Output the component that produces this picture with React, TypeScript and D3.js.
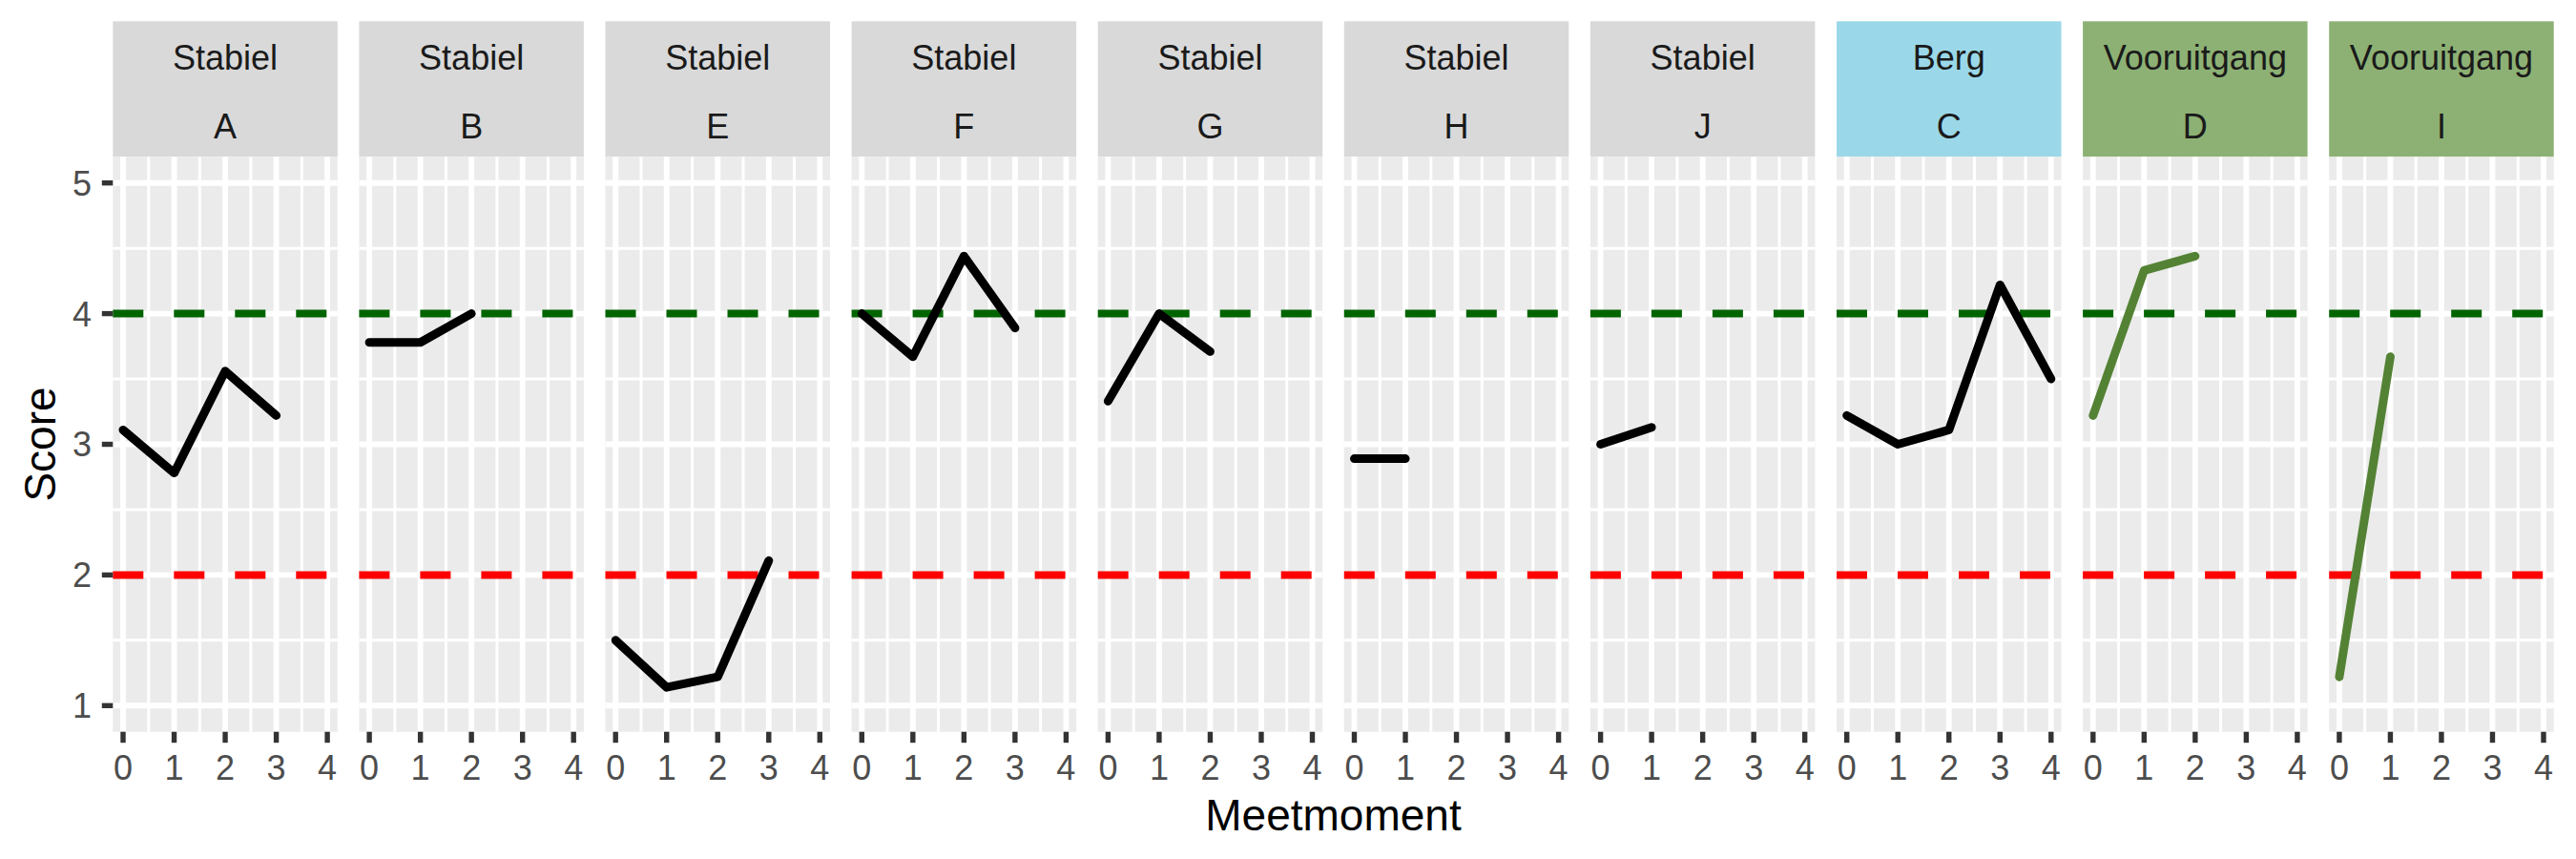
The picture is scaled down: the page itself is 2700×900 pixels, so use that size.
import React, { useRef, useEffect } from 'react'
import * as d3 from 'd3'

// facet labels, in plot order
const panelIds = ['A', 'B', 'E', 'F', 'G', 'H', 'J', 'C', 'D', 'I']
const panelGroups = ['Stabiel', 'Stabiel', 'Stabiel', 'Stabiel', 'Stabiel', 'Stabiel', 'Stabiel', 'Berg', 'Vooruitgang', 'Vooruitgang']

// scores per meetmoment (index = meetmoment)
const scoresA = [3.11, 2.78, 3.56, 3.22]
const scoresB = [3.78, 3.78, 4.0]
const scoresE = [1.5, 1.14, 1.22, 2.11]
const scoresF = [4.0, 3.67, 4.44, 3.89]
const scoresG = [3.33, 4.0, 3.71]
const scoresH = [2.89, 2.89]
const scoresJ = [3.0, 3.13]
const scoresC = [3.22, 3.0, 3.11, 4.22, 3.5]
const scoresD = [3.22, 4.33, 4.44]
const scoresI = [1.22, 3.67]
const panelScores = [scoresA, scoresB, scoresE, scoresF, scoresG, scoresH, scoresJ, scoresC, scoresD, scoresI]

const xTicks = [0, 1, 2, 3, 4]
const yTicks = [1, 2, 3, 4, 5]
const upperThreshold = 4
const lowerThreshold = 2

const stripFill: Record<string, string> = {
  Stabiel: '#D9D9D9',
  Berg: '#9AD8E9',
  Vooruitgang: '#8DB174',
}
const lineColour: Record<string, string> = {
  Stabiel: '#000000',
  Berg: '#000000',
  Vooruitgang: '#548235',
}

const App: React.FC = () => {
  const ref = useRef<SVGSVGElement>(null)

  useEffect(() => {
    if (!ref.current) return
    const svg = d3.select(ref.current)
    svg.selectAll('*').remove()

    const font = '"Liberation Sans", Arial, sans-serif'
    const panelLeft = 118.3
    const panelStep = 258.1
    const panelW = 235.5
    const stripTop = 22.3
    const panelTop = 164.3
    const panelBottom = 766.7

    const x = d3.scaleLinear().domain([-0.2, 4.2]).range([0, panelW])
    const y = d3.scaleLinear().domain([0.8, 5.2]).range([panelBottom, panelTop])

    const minorX = d3.range(-0.5, 4.6, 1).filter(v => v > -0.2 && v < 4.2)
    const minorY = d3.range(0.5, 5.6, 1).filter(v => v > 0.8 && v < 5.2)

    const line = d3.line<number>()
      .x((d, i) => x(i))
      .y(d => y(d))

    panelIds.forEach((id, p) => {
      const group = panelGroups[p]
      const g = svg.append('g').attr('transform', `translate(${panelLeft + p * panelStep},0)`)

      // strip
      g.append('rect')
        .attr('x', 0).attr('y', stripTop)
        .attr('width', panelW).attr('height', panelTop - stripTop)
        .attr('fill', stripFill[group])
      g.append('text')
        .attr('x', panelW / 2).attr('y', 72.7)
        .attr('text-anchor', 'middle')
        .style('font-family', font).style('font-size', '36px').style('fill', '#1A1A1A')
        .text(group)
      g.append('text')
        .attr('x', panelW / 2).attr('y', 145)
        .attr('text-anchor', 'middle')
        .style('font-family', font).style('font-size', '36px').style('fill', '#1A1A1A')
        .text(id)

      // panel background
      g.append('rect')
        .attr('x', 0).attr('y', panelTop)
        .attr('width', panelW).attr('height', panelBottom - panelTop)
        .attr('fill', '#EBEBEB')

      // minor grid
      minorY.forEach(v => {
        g.append('line').attr('x1', 0).attr('x2', panelW).attr('y1', y(v)).attr('y2', y(v))
          .attr('stroke', '#fff').attr('stroke-width', 3)
      })
      minorX.forEach(v => {
        g.append('line').attr('x1', x(v)).attr('x2', x(v)).attr('y1', panelTop).attr('y2', panelBottom)
          .attr('stroke', '#fff').attr('stroke-width', 3)
      })
      // major grid
      yTicks.forEach(v => {
        g.append('line').attr('x1', 0).attr('x2', panelW).attr('y1', y(v)).attr('y2', y(v))
          .attr('stroke', '#fff').attr('stroke-width', 5.9)
      })
      xTicks.forEach(v => {
        g.append('line').attr('x1', x(v)).attr('x2', x(v)).attr('y1', panelTop).attr('y2', panelBottom)
          .attr('stroke', '#fff').attr('stroke-width', 5.9)
      })

      // threshold lines
      g.append('line')
        .attr('x1', 0).attr('x2', panelW).attr('y1', y(upperThreshold)).attr('y2', y(upperThreshold))
        .attr('stroke', '#006400').attr('stroke-width', 8).attr('stroke-dasharray', '32 32')
      g.append('line')
        .attr('x1', 0).attr('x2', panelW).attr('y1', y(lowerThreshold)).attr('y2', y(lowerThreshold))
        .attr('stroke', '#FF0000').attr('stroke-width', 8).attr('stroke-dasharray', '32 32')

      // scores
      g.append('path')
        .attr('d', line(panelScores[p]) || '')
        .attr('fill', 'none')
        .attr('stroke', lineColour[group])
        .attr('stroke-width', 9)
        .attr('stroke-linecap', 'round')
        .attr('stroke-linejoin', 'round')

      // x axis ticks and labels
      xTicks.forEach(v => {
        g.append('line')
          .attr('x1', x(v)).attr('x2', x(v))
          .attr('y1', panelBottom).attr('y2', panelBottom + 11.5)
          .attr('stroke', '#333333').attr('stroke-width', 5.4)
        g.append('text')
          .attr('x', x(v)).attr('y', 816.5)
          .attr('text-anchor', 'middle')
          .style('font-family', font).style('font-size', '36px').style('fill', '#4D4D4D')
          .text(v)
      })
    })

    // y axis
    yTicks.forEach(v => {
      svg.append('line')
        .attr('x1', panelLeft - 11.5).attr('x2', panelLeft)
        .attr('y1', y(v)).attr('y2', y(v))
        .attr('stroke', '#333333').attr('stroke-width', 5.4)
      svg.append('text')
        .attr('x', 96).attr('y', y(v)).attr('dy', '0.36em')
        .attr('text-anchor', 'end')
        .style('font-family', font).style('font-size', '36px').style('fill', '#4D4D4D')
        .text(v)
    })

    // axis titles
    const plotRight = panelLeft + (panelIds.length - 1) * panelStep + panelW
    svg.append('text')
      .attr('x', (panelLeft + plotRight) / 2).attr('y', 870)
      .attr('text-anchor', 'middle')
      .style('font-family', font).style('font-size', '46px').style('fill', '#000')
      .text('Meetmoment')
    svg.append('text')
      .attr('transform', `translate(58,${(panelTop + panelBottom) / 2}) rotate(-90)`)
      .attr('text-anchor', 'middle')
      .style('font-family', font).style('font-size', '46px').style('fill', '#000')
      .text('Score')
  }, [])

  return (
    <div style={{ position: 'absolute', left: 0, top: 0, width: 2700, height: 900, background: '#fff' }}>
      <svg ref={ref} width={2700} height={900} style={{ display: 'block' }} />
    </div>
  )
}

export default App
